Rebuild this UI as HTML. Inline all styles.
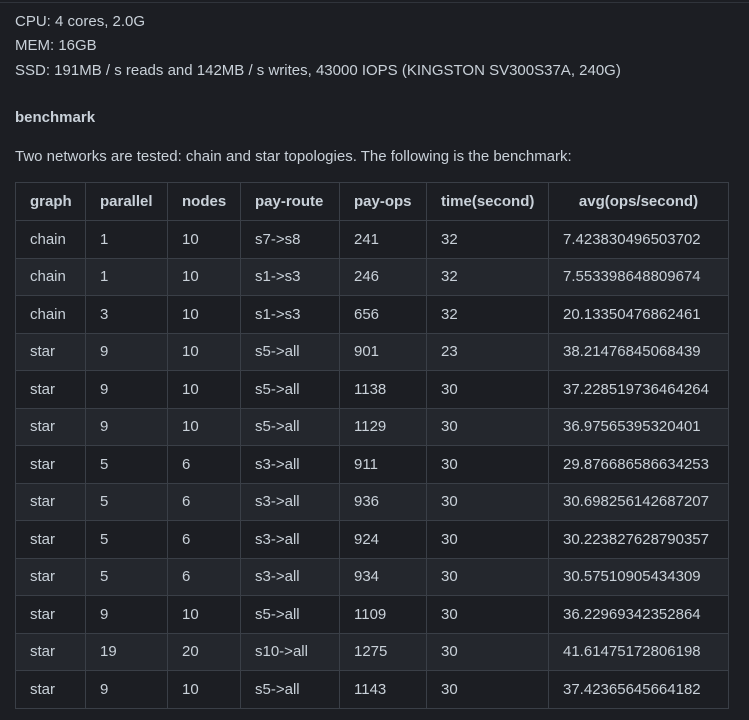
<!DOCTYPE html>
<html><head><style>
html,body{margin:0;padding:0;background:#1c1e23;width:749px;height:720px;overflow:hidden}
body{font-family:"Liberation Sans",sans-serif;color:#c9d1d9;font-size:15px;position:relative}
.top{position:absolute;left:0;top:2px;width:749px;height:1px;background:#30343b}
.l{position:absolute;left:15px;white-space:nowrap;line-height:20px}
table{position:absolute;left:15px;top:182px;border-collapse:collapse;font-size:15px}
td,th{border:1px solid #3a3f47;padding:0 0 0 14px;height:36.5px;text-align:left;white-space:nowrap}
th{font-weight:bold;height:37px}
th:last-child{text-align:center;padding:0}
tr{background:#1c1e23}
tbody tr:nth-child(even){background:#24272d}
</style></head><body>
<div class="top"></div>
<div class="l" style="top:12px">CPU: 4 cores, 2.0G</div>
<div class="l" style="top:36px">MEM: 16GB</div>
<div class="l" style="top:61px">SSD: 191MB / s reads and 142MB / s writes, 43000 IOPS (KINGSTON SV300S37A, 240G)</div>
<div class="l" style="top:108px;font-weight:bold">benchmark</div>
<div class="l" style="top:147px">Two networks are tested: chain and star topologies. The following is the benchmark:</div>
<table>
<colgroup><col style="width:70px"><col style="width:82px"><col style="width:73px"><col style="width:99px"><col style="width:87px"><col style="width:122px"><col style="width:180px"></colgroup>
<thead><tr><th>graph</th><th>parallel</th><th>nodes</th><th>pay-route</th><th>pay-ops</th><th>time(second)</th><th>avg(ops/second)</th></tr></thead>
<tbody>
<tr><td>chain</td><td>1</td><td>10</td><td>s7-&gt;s8</td><td>241</td><td>32</td><td>7.423830496503702</td></tr>
<tr><td>chain</td><td>1</td><td>10</td><td>s1-&gt;s3</td><td>246</td><td>32</td><td>7.553398648809674</td></tr>
<tr><td>chain</td><td>3</td><td>10</td><td>s1-&gt;s3</td><td>656</td><td>32</td><td>20.13350476862461</td></tr>
<tr><td>star</td><td>9</td><td>10</td><td>s5-&gt;all</td><td>901</td><td>23</td><td>38.21476845068439</td></tr>
<tr><td>star</td><td>9</td><td>10</td><td>s5-&gt;all</td><td>1138</td><td>30</td><td>37.228519736464264</td></tr>
<tr><td>star</td><td>9</td><td>10</td><td>s5-&gt;all</td><td>1129</td><td>30</td><td>36.97565395320401</td></tr>
<tr><td>star</td><td>5</td><td>6</td><td>s3-&gt;all</td><td>911</td><td>30</td><td>29.876686586634253</td></tr>
<tr><td>star</td><td>5</td><td>6</td><td>s3-&gt;all</td><td>936</td><td>30</td><td>30.698256142687207</td></tr>
<tr><td>star</td><td>5</td><td>6</td><td>s3-&gt;all</td><td>924</td><td>30</td><td>30.223827628790357</td></tr>
<tr><td>star</td><td>5</td><td>6</td><td>s3-&gt;all</td><td>934</td><td>30</td><td>30.57510905434309</td></tr>
<tr><td>star</td><td>9</td><td>10</td><td>s5-&gt;all</td><td>1109</td><td>30</td><td>36.22969342352864</td></tr>
<tr><td>star</td><td>19</td><td>20</td><td>s10-&gt;all</td><td>1275</td><td>30</td><td>41.61475172806198</td></tr>
<tr><td>star</td><td>9</td><td>10</td><td>s5-&gt;all</td><td>1143</td><td>30</td><td>37.42365645664182</td></tr>
</tbody></table>
</body></html>
